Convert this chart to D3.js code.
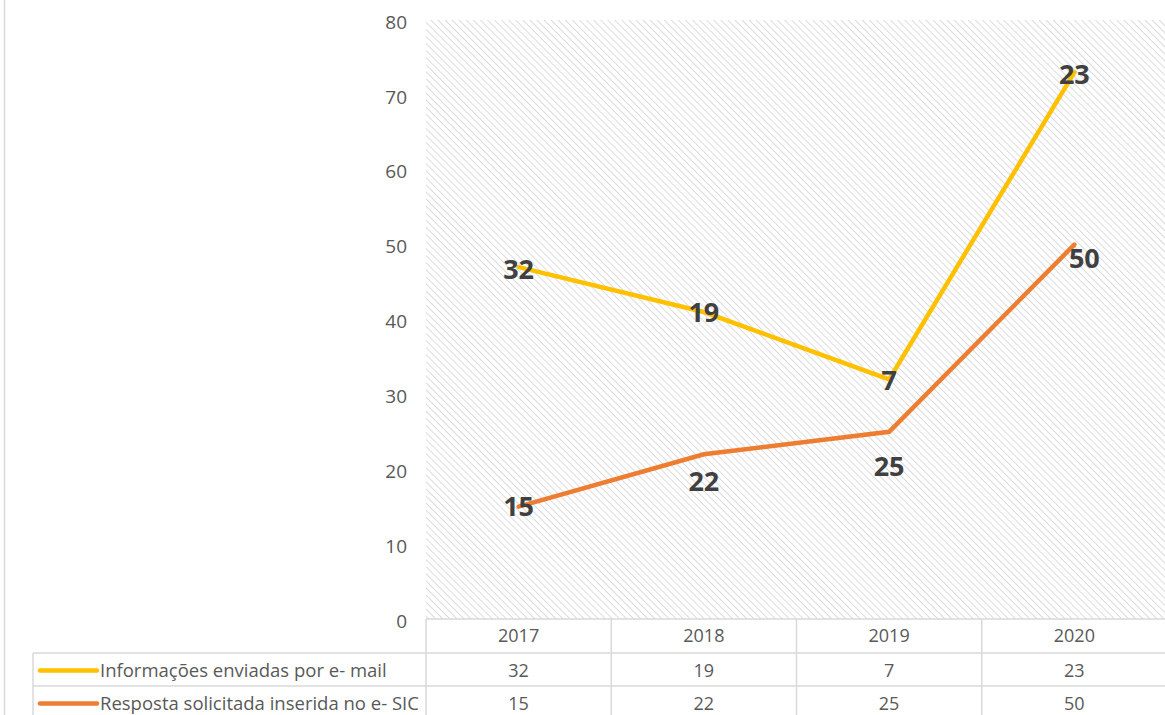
<!DOCTYPE html>
<html>
<head>
<meta charset="utf-8">
<script src="https://cdn.jsdelivr.net/npm/d3@7"></script>
<style>
  body { margin: 0; background: #fff; }
  svg { display: block; font-family: "Open Sans", "Liberation Sans", sans-serif; }
</style>
</head>
<body>
<svg id="chart" width="1165" height="715"></svg>
<script>
// chart data
var years = ["2017", "2018", "2019", "2020"];
var seriesNames = ["Informações enviadas por e- mail", "Resposta solicitada inserida no e- SIC"];
var emailValues = [32, 19, 7, 23];
var sicValues = [15, 22, 25, 50];
var yTicks = [0, 10, 20, 30, 40, 50, 60, 70, 80];
var colours = ["#FFC000", "#ED7D31"];

// hand-placed label nudges (px), as in the original sheet
var emailLabelNudge = [[0, 2], [0, 1], [0, 1], [0, 2]];
var sicLabelNudge = [[0, 0], [0, 27], [0, 35], [10, 14]];

var svg = d3.select("#chart");

var plotLeft = 426, plotRight = 1167, plotTop = 20, plotBottom = 619;
var headH = 34, rowH = 33;

var x = d3.scaleBand().domain(years).range([plotLeft, plotRight]);
var y = d3.scaleLinear().domain([0, 80]).range([plotBottom, plotTop]);

// stacked: email line sits on top of the e-SIC line
var stacked = emailValues.map(function(v, i) { return v + sicValues[i]; });

// hatch pattern for plot area
var defs = svg.append("defs");
var pat = defs.append("pattern")
  .attr("id", "hatch")
  .attr("patternUnits", "userSpaceOnUse")
  .attr("width", 5).attr("height", 5)
  .attr("patternTransform", "rotate(-45)");
pat.append("rect").attr("width", 5).attr("height", 5).attr("fill", "#fff");
pat.append("line")
  .attr("x1", 0).attr("y1", 0).attr("x2", 0).attr("y2", 5)
  .attr("stroke", "#d6d6d6").attr("stroke-width", 1.7);

// outer frame line at left
svg.append("line")
  .attr("x1", 4.5).attr("x2", 4.5).attr("y1", 0).attr("y2", 715)
  .attr("stroke", "#d9d9d9").attr("stroke-width", 1.5);

svg.append("rect")
  .attr("x", plotLeft).attr("y", plotTop)
  .attr("width", plotRight - plotLeft).attr("height", plotBottom - plotTop)
  .attr("fill", "url(#hatch)");

// y axis labels
svg.append("g").selectAll("text")
  .data(yTicks).enter().append("text")
  .attr("x", 407)
  .attr("y", function(d) { return y(d) + 2; })
  .attr("dy", "0.35em")
  .attr("text-anchor", "end")
  .attr("font-size", 19)
  .attr("fill", "#595959")
  .text(function(d) { return d; });

// data table
var tableLeft = 33;
var grid = svg.append("g").attr("stroke", "#d9d9d9").attr("stroke-width", 1.5).attr("fill", "none");
// horizontal rules
grid.append("line").attr("x1", plotLeft).attr("x2", 1165).attr("y1", plotBottom).attr("y2", plotBottom);
grid.append("line").attr("x1", tableLeft).attr("x2", 1165).attr("y1", plotBottom + headH).attr("y2", plotBottom + headH);
grid.append("line").attr("x1", tableLeft).attr("x2", 1165).attr("y1", plotBottom + headH + rowH).attr("y2", plotBottom + headH + rowH);
// vertical rules
grid.append("line").attr("x1", tableLeft).attr("x2", tableLeft).attr("y1", plotBottom + headH).attr("y2", 715);
years.forEach(function(yr) {
  grid.append("line")
    .attr("x1", x(yr)).attr("x2", x(yr))
    .attr("y1", plotBottom).attr("y2", 715);
});

// header: years
svg.append("g").selectAll("text")
  .data(years).enter().append("text")
  .attr("x", function(d) { return x(d) + x.bandwidth() / 2; })
  .attr("y", plotBottom + headH / 2)
  .attr("dy", "0.35em")
  .attr("text-anchor", "middle")
  .attr("font-size", 18)
  .attr("fill", "#595959")
  .text(function(d) { return d; });

var rows = [emailValues, sicValues];
rows.forEach(function(vals, r) {
  var cy = plotBottom + headH + rowH * r + rowH / 2 + 1;
  svg.append("line")
    .attr("x1", 40).attr("x2", 97).attr("y1", cy).attr("y2", cy)
    .attr("stroke", colours[r]).attr("stroke-width", 4.5).attr("stroke-linecap", "round");
  svg.append("text")
    .attr("x", 100).attr("y", cy).attr("dy", "0.35em")
    .attr("font-size", 18.5).attr("fill", "#595959")
    .text(seriesNames[r]);
  svg.append("g").selectAll("text")
    .data(vals).enter().append("text")
    .attr("x", function(d, i) { return x(years[i]) + x.bandwidth() / 2; })
    .attr("y", cy).attr("dy", "0.35em")
    .attr("text-anchor", "middle")
    .attr("font-size", 18).attr("fill", "#595959")
    .text(function(d) { return d; });
});

// lines
var line = d3.line()
  .x(function(d, i) { return x(years[i]) + x.bandwidth() / 2; })
  .y(function(d) { return y(d); });

svg.append("path").datum(sicValues)
  .attr("d", line).attr("fill", "none")
  .attr("stroke", colours[1]).attr("stroke-width", 4.5).attr("stroke-linecap", "round");
svg.append("path").datum(stacked)
  .attr("d", line).attr("fill", "none")
  .attr("stroke", colours[0]).attr("stroke-width", 4.5).attr("stroke-linecap", "round");

// data labels
function labels(vals, pos, nudge) {
  svg.append("g").selectAll("text")
    .data(vals).enter().append("text")
    .attr("x", function(d, i) { return x(years[i]) + x.bandwidth() / 2 + nudge[i][0]; })
    .attr("y", function(d, i) { return y(pos[i]) + nudge[i][1]; })
    .attr("dy", "0.35em")
    .attr("text-anchor", "middle")
    .attr("font-size", 27).attr("font-weight", "bold")
    .attr("fill", "#404040")
    .text(function(d) { return d; });
}
labels(emailValues, stacked, emailLabelNudge);
labels(sicValues, sicValues, sicLabelNudge);
</script>
</body>
</html>
